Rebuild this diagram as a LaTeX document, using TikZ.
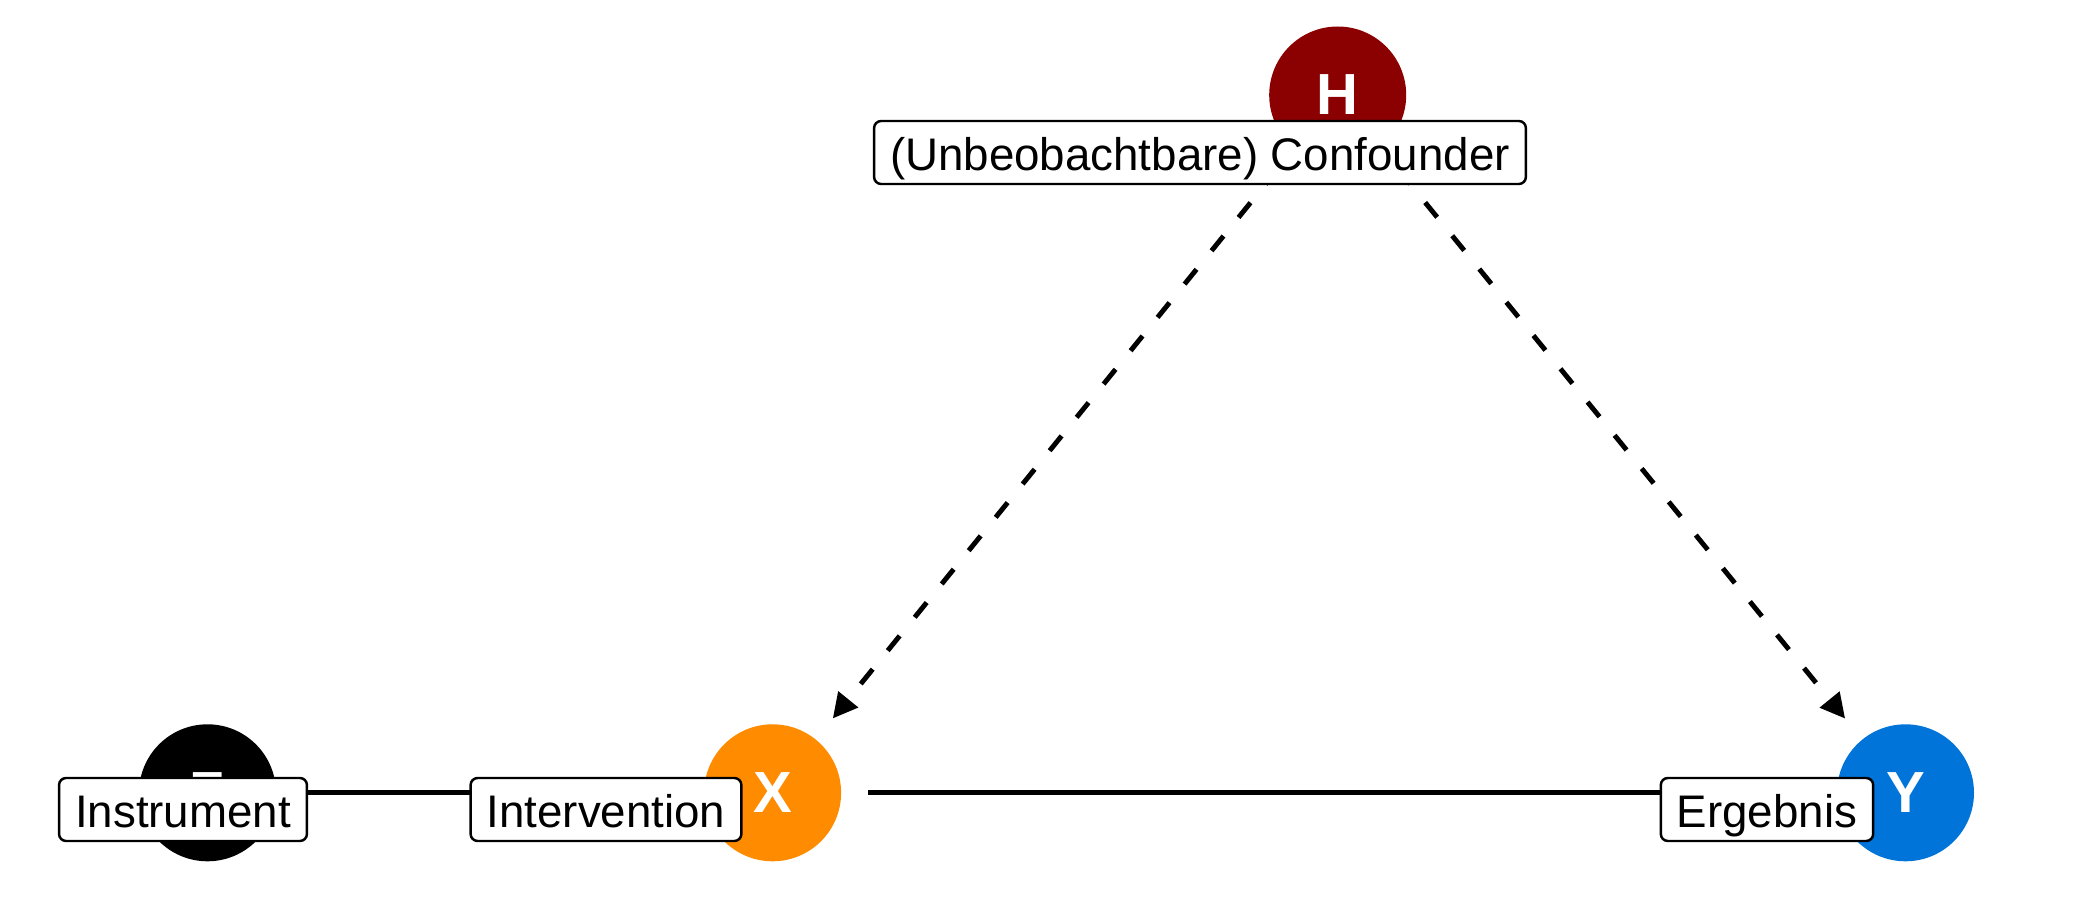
\documentclass[tikz,border=0pt]{standalone}
\usepackage{fontspec}
\setmainfont{Liberation Sans}
\usepackage{tikz}
\usetikzlibrary{
    arrows.meta,
    positioning,
    calc
}
\definecolor{hred}{HTML}{8B0000}
\definecolor{xorange}{HTML}{FF8C00}
\definecolor{yblue}{HTML}{0074D9}
\tikzstyle{var} = [
    circle,
    minimum size=1.37cm,
    inner sep=0pt,
    text=white,
    font=\fontsize{16.5}{18}\selectfont\bfseries
]
\tikzstyle{edge} = [
    -{Triangle[length=7pt,width=7pt]},
    line width=1.4pt,
    shorten <=0.265cm,
    shorten >=0.265cm
]
\tikzstyle{tag} = [
    draw=black,
    fill=white,
    line width=0.7pt,
    rounded corners=0.07cm,
    inner xsep=0.16cm,
    inner ysep=0.065cm,
    text height=0.43cm,
    text depth=0.07cm,
    font=\fontsize{13}{15}\selectfont
]

\begin{document}
\begin{tikzpicture}
        \useasboundingbox (0,0) rectangle (21,9);

        % Variables
        \node[var, fill=black] (Z) at (2.075,1.072) {Z};
        \node[var, fill=xorange] (X) at (7.726,1.072) {X};
        \node[var, fill=yblue] (Y) at (19.055,1.072) {Y};
        \node[var, fill=hred] (H) at (13.377,8.05) {H};

        % Causal paths
        \draw[edge] (Z) -- (X);
        \draw[edge] (X) -- (Y);

        % Confounding paths
        \draw[edge, dash pattern=on 5.4pt off 6.8pt] (H) -- (X);
        \draw[edge, dash pattern=on 5.4pt off 6.8pt] (H) -- (Y);

        % Labels
        \node[tag] (Zlab) at (1.83,0.905) {Instrument};
        \node[tag] (Xlab) at (6.06,0.905) {Intervention};
        \node[tag] (Ylab) at (17.67,0.905) {Ergebnis};
        \node[tag] (Hlab) at (12.00,7.475) {(Unbeobachtbare) Confounder};
    \end{tikzpicture}
\end{document}
